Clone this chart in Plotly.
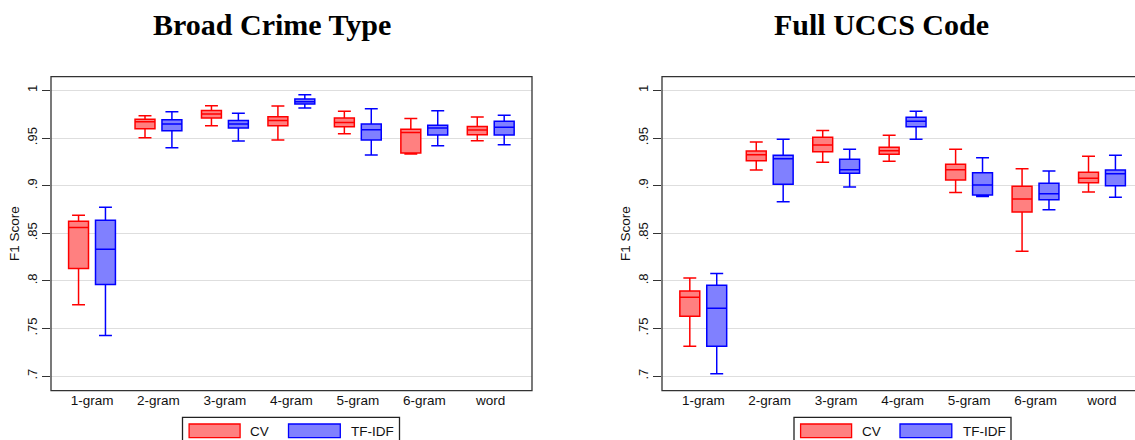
import plotly.graph_objects as go

categories = ["1-gram", "2-gram", "3-gram", "4-gram", "5-gram", "6-gram", "word"]

# Broad Crime Type
broad_cv_low = [0.775, 0.9503, 0.9629, 0.9479, 0.9545, 0.9332, 0.9472]
broad_cv_q1 = [0.813, 0.9598, 0.971, 0.9629, 0.9619, 0.9343, 0.9535]
broad_cv_med = [0.856, 0.9671, 0.9752, 0.9685, 0.9664, 0.9559, 0.9584]
broad_cv_q3 = [0.8626, 0.9696, 0.979, 0.9724, 0.971, 0.9591, 0.9622]
broad_cv_high = [0.869, 0.9734, 0.9839, 0.9836, 0.978, 0.9706, 0.972]

broad_tf_low = [0.7427, 0.9399, 0.9469, 0.9815, 0.9322, 0.942, 0.943]
broad_tf_q1 = [0.7962, 0.9577, 0.9605, 0.9857, 0.9479, 0.9531, 0.9531]
broad_tf_med = [0.8332, 0.9647, 0.9647, 0.9881, 0.9587, 0.9605, 0.9612]
broad_tf_q3 = [0.8636, 0.9692, 0.9685, 0.9909, 0.9647, 0.9633, 0.9675]
broad_tf_high = [0.8773, 0.9776, 0.9759, 0.9955, 0.9808, 0.9787, 0.9738]

# Full UCCS Code
full_cv_low = [0.7315, 0.9164, 0.9245, 0.9255, 0.8927, 0.8311, 0.8934]
full_cv_q1 = [0.763, 0.9262, 0.9357, 0.9329, 0.9059, 0.8724, 0.9031]
full_cv_med = [0.7829, 0.9325, 0.9427, 0.9367, 0.9168, 0.886, 0.9077]
full_cv_q3 = [0.7895, 0.9364, 0.9507, 0.9402, 0.9224, 0.8993, 0.914]
full_cv_high = [0.8031, 0.9458, 0.958, 0.9528, 0.9381, 0.9178, 0.9308]

full_tf_low = [0.7024, 0.8832, 0.8986, 0.9486, 0.8885, 0.8748, 0.8878]
full_tf_q1 = [0.7315, 0.9014, 0.9129, 0.9619, 0.8902, 0.8853, 0.9]
full_tf_med = [0.7713, 0.9283, 0.9168, 0.9675, 0.9007, 0.8916, 0.9126]
full_tf_q3 = [0.7955, 0.9318, 0.9276, 0.9717, 0.9136, 0.9024, 0.9164]
full_tf_high = [0.8077, 0.9486, 0.9381, 0.978, 0.9294, 0.9154, 0.9318]

y_tickvals = [0.7, 0.75, 0.8, 0.85, 0.9, 0.95, 1.0]
y_ticktext = [".7", ".75", ".8", ".85", ".9", ".95", "1"]
series_names = ["CV", "TF-IDF"]
panel_titles = ["Broad Crime Type", "Full UCCS Code"]

W, H = 1135, 440
RED_LINE, RED_FILL = "#ff0000", "#ff8080"
BLUE_LINE, BLUE_FILL = "#0000ff", "#8080ff"
SANS = "Liberation Sans, Arial, sans-serif"
SERIF = "Liberation Serif, Times New Roman, serif"

def px_x(v):
    return v / W

def px_y(v):
    return 1 - v / H

fig = go.Figure()

def add_box(name, low, q1, med, q3, high, xa, ya, line, fill):
    fig.add_trace(go.Box(
        name=name, x=categories, lowerfence=low, q1=q1, median=med, q3=q3,
        upperfence=high, xaxis=xa, yaxis=ya, offsetgroup=name,
        line=dict(color=line, width=1.5), fillcolor=fill,
        whiskerwidth=0.65, boxpoints=False, showlegend=False,
        hoverinfo="skip",
    ))

add_box(series_names[0], broad_cv_low, broad_cv_q1, broad_cv_med, broad_cv_q3, broad_cv_high, "x", "y", RED_LINE, RED_FILL)
add_box(series_names[1], broad_tf_low, broad_tf_q1, broad_tf_med, broad_tf_q3, broad_tf_high, "x", "y", BLUE_LINE, BLUE_FILL)
add_box(series_names[0], full_cv_low, full_cv_q1, full_cv_med, full_cv_q3, full_cv_high, "x2", "y2", RED_LINE, RED_FILL)
add_box(series_names[1], full_tf_low, full_tf_q1, full_tf_med, full_tf_q3, full_tf_high, "x2", "y2", BLUE_LINE, BLUE_FILL)

y_dom = [px_y(390.7), px_y(76.7)]
yrange = [0.6847, 1.0144]

xaxis_common = dict(type="category", categoryorder="array", categoryarray=categories,
                    showgrid=False, zeroline=False, showline=False, ticks="",
                    tickfont=dict(family=SANS, size=13.5, color="#111"),
                    automargin=False, fixedrange=True)
yaxis_common = dict(range=yrange, tickvals=y_tickvals, ticktext=y_ticktext,
                    tickangle=-90, ticks="outside", ticklen=8, tickwidth=1, tickcolor="#333",
                    showgrid=True, gridcolor="#dedede", gridwidth=1, zeroline=False,
                    showline=False, tickfont=dict(family=SANS, size=13, color="#111"),
                    title=dict(text="F1 Score", font=dict(family=SANS, size=13.5, color="#111"), standoff=2),
                    automargin=False, fixedrange=True)

fig.update_layout(
    width=W, height=H, margin=dict(l=0, r=0, t=0, b=0),
    paper_bgcolor="white", plot_bgcolor="white",
    boxmode="group", boxgap=0.19, boxgroupgap=0.26,
    xaxis=dict(domain=[px_x(51), px_x(532)], range=[-0.617, 6.621], anchor="y", **xaxis_common),
    yaxis=dict(domain=y_dom, anchor="x", **yaxis_common),
    xaxis2=dict(domain=[px_x(662), 1.0], range=[-0.621, 6.497], anchor="y2", **xaxis_common),
    yaxis2=dict(domain=y_dom, anchor="x2", **yaxis_common),
)

shapes = []
frame = dict(type="rect", line=dict(color="#333333", width=1.3), fillcolor="rgba(0,0,0,0)", layer="above")
shapes.append(dict(frame, xref="x domain", yref="y domain", x0=0, x1=1, y0=0, y1=1))
shapes.append(dict(frame, xref="x2 domain", yref="y2 domain", x0=0, x1=1.03, y0=0, y1=1))

annotations = []
for cx, title in zip([271.7, 881.7], panel_titles):
    annotations.append(dict(text="<b>%s</b>" % title, x=px_x(cx), y=px_y(25), xref="paper", yref="paper",
                            xanchor="center", yanchor="middle", showarrow=False,
                            font=dict(family=SERIF, size=30, color="black")))

for L in [182.5, 794.0]:
    shapes.append(dict(type="rect", xref="paper", yref="paper", x0=px_x(L), x1=px_x(L + 217),
                       y0=px_y(452), y1=px_y(417.3), line=dict(color="#222", width=1.3),
                       fillcolor="white"))
    shapes.append(dict(type="rect", xref="paper", yref="paper", x0=px_x(L + 6.6), x1=px_x(L + 57.6),
                       y0=px_y(437.7), y1=px_y(424), line=dict(color=RED_LINE, width=1.3),
                       fillcolor=RED_FILL))
    shapes.append(dict(type="rect", xref="paper", yref="paper", x0=px_x(L + 106), x1=px_x(L + 157.8),
                       y0=px_y(437.7), y1=px_y(424), line=dict(color=BLUE_LINE, width=1.3),
                       fillcolor=BLUE_FILL))
    annotations.append(dict(text=series_names[0], x=px_x(L + 65.8), y=px_y(431), xref="paper", yref="paper",
                            xanchor="left", yanchor="middle", showarrow=False,
                            font=dict(family=SANS, size=13.5, color="#111")))
    annotations.append(dict(text=series_names[1], x=px_x(L + 166.5), y=px_y(431), xref="paper", yref="paper",
                            xanchor="left", yanchor="middle", showarrow=False,
                            font=dict(family=SANS, size=13.5, color="#111")))

fig.update_layout(shapes=shapes, annotations=annotations)
fig.write_html("out.html")
